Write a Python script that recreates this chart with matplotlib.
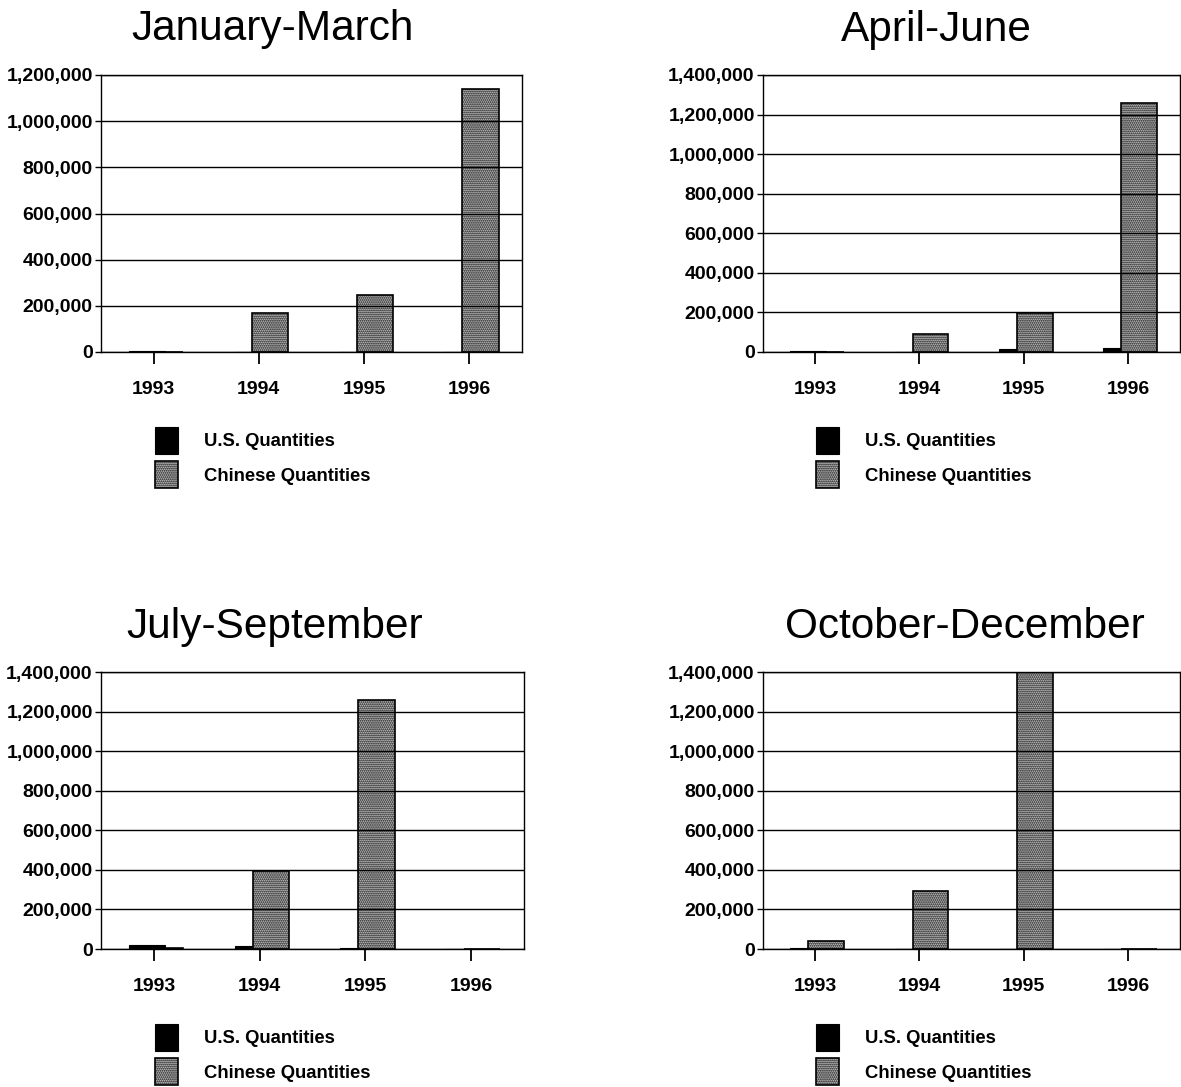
import matplotlib
matplotlib.use("Agg")
import matplotlib.pyplot as plt
import numpy as np
from matplotlib.ticker import FuncFormatter

plt.rcParams['font.family'] = ['Liberation Sans', 'DejaVu Sans']
plt.rcParams['hatch.linewidth'] = 0.9
plt.rcParams['hatch.color'] = '#1e1e1e'

years = ["1993", "1994", "1995", "1996"]
titles = ["January-March", "April-June", "July-September", "October-December"]

us_jan_mar = [3000, 1000, 0, 0]
cn_jan_mar = [0, 170000, 248000, 1140000]
us_apr_jun = [4000, 0, 15000, 18000]
cn_apr_jun = [0, 91000, 196000, 1258000]
us_jul_sep = [18000, 15000, 5000, 0]
cn_jul_sep = [3000, 395000, 1258000, 0]
us_oct_dec = [5000, 2000, 0, 0]
cn_oct_dec = [40000, 293000, 1400000, 0]

us_series = [us_jan_mar, us_apr_jun, us_jul_sep, us_oct_dec]
cn_series = [cn_jan_mar, cn_apr_jun, cn_jul_sep, cn_oct_dec]
ymax = [1200000, 1400000, 1400000, 1400000]

W, H = 1181, 1087
fig = plt.figure(figsize=(W / 100, H / 100), dpi=100)

# axes boxes in pixels: left, right, top, bottom
boxes = [(101, 522, 75, 352), (763, 1180, 75, 352),
         (101, 524, 672, 949), (763, 1180, 672, 949)]
title_pos = [(273, 29), (936, 30), (275, 627), (965, 627)]
legend_pos = [(155, 427), (816, 427), (155, 1024), (816, 1024)]

bar_w = 0.343
off = 0.086

for i in range(4):
    l, r, t, b = boxes[i]
    ax = fig.add_axes([l / W, 1 - b / H, (r - l) / W, (b - t) / H])
    x = np.arange(len(years))
    hu = ax.bar(x - off + 0.02, us_series[i], width=bar_w, color='black',
                edgecolor='black', linewidth=0.8, zorder=1, label='U.S. Quantities')
    hc = ax.bar(x + off + 0.02, cn_series[i], width=bar_w, color='#c8c8c8',
                edgecolor='black', linewidth=1.2, hatch='........', zorder=1.2,
                label='Chinese Quantities')
    ax.set_xlim(-0.5, 3.5)
    ax.set_ylim(0, ymax[i])
    ax.set_yticks(np.arange(0, ymax[i] + 1, 200000))
    ax.yaxis.set_major_formatter(FuncFormatter(lambda v, p: f"{int(v):,}"))
    ax.set_xticks(x)
    ax.set_xticklabels(years)
    ax.set_axisbelow(False)
    ax.grid(axis='y', color='black', linewidth=1.0)
    for s in ax.spines.values():
        s.set_linewidth(1.0)
        s.set_color('black')
    ax.tick_params(axis='x', length=8.6, width=1.3, pad=12, labelsize=14)
    ax.tick_params(axis='y', length=4, width=1.0, pad=2, labelsize=14)
    for lab in ax.get_xticklabels() + ax.get_yticklabels():
        lab.set_fontweight('bold')
    tx, ty = title_pos[i]
    fig.text(tx / W, 1 - ty / H, titles[i], ha='center', va='center',
             fontsize=30.5)
    lx, ly = legend_pos[i]
    ax.legend(handles=[hu, hc], loc='upper left',
              bbox_to_anchor=(lx / W, 1 - ly / H), bbox_transform=fig.transFigure,
              frameon=False,
              prop={'size': 13.3, 'weight': 'bold'},
              handlelength=1.25, handleheight=1.85, labelspacing=0.42,
              handletextpad=1.4, borderpad=0, borderaxespad=0)

fig.savefig("out.png", dpi=100)
